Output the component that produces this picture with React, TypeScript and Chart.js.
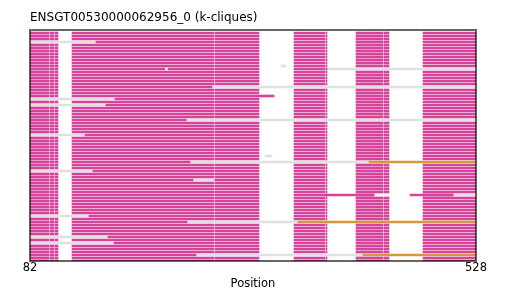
import React, { useEffect, useRef } from 'react';
import { Chart, registerables } from 'chart.js';

Chart.register(...registerables);

const TITLE = 'ENSGT00530000062956_0 (k-cliques)';
const X_LABEL = 'Position';
const X_MIN = 82;
const X_MAX = 528;
const X_TICKS = [82, 528];
const ROW_COUNT = 77;
const Y_MIN = -1;
const Y_MAX = 76;

// Aligned blocks shared by every row (positions)
const BLOCK_STARTS = [82, 102, 107, 124, 267, 346, 378, 408, 436, 475];
const BLOCK_ENDS = [101, 106, 110, 266, 311, 377, 379, 435, 441, 528];

// Missing (grey) stretches per row
const GRAY_ROWS = [3, 11, 12, 18, 22, 24, 29, 34, 41, 43, 46, 49, 54, 61, 63, 68, 70, 74];
const GRAY_STARTS = [82, 333, 379, 264, 82, 82, 238, 82, 317, 242, 82, 245, 505, 82, 239, 82, 82, 248];
const GRAY_ENDS = [148, 338, 528, 528, 167, 158, 528, 137, 324, 421, 145, 267, 528, 141, 350, 160, 166, 415];

// Second clique (orange) stretches
const ORANGE_ROWS = [43, 63, 74];
const ORANGE_STARTS = [421, 350, 415];
const ORANGE_ENDS = [528, 528, 528];

// Holes inside a row
const HOLE_ROWS = [12, 54];
const HOLE_STARTS = [217, 426];
const HOLE_ENDS = [220, 462];

// Extra magenta stretches outside the shared blocks
const EXTRA_ROWS = [21, 54, 54];
const EXTRA_STARTS = [311, 377, 462];
const EXTRA_ENDS = [326, 426, 505];

const MAGENTA = '#d5449a';
const GREY = '#e0e0e0';
const ORANGE = '#d6963c';
const FONT = 'DejaVu Sans';

type Seg = [number, number];

function subtract(segs: Seg[], cuts: Seg[]): Seg[] {
  let out = segs.slice();
  for (const [cs, ce] of cuts) {
    const next: Seg[] = [];
    for (const [s, e] of out) {
      if (ce <= s || cs >= e) { next.push([s, e]); continue; }
      if (cs > s) next.push([s, cs]);
      if (ce < e) next.push([ce, e]);
    }
    out = next;
  }
  return out;
}

function rowsOf(rows: number[], starts: number[], ends: number[], r: number): Seg[] {
  const res: Seg[] = [];
  rows.forEach((row, i) => { if (row === r) res.push([starts[i], ends[i]]); });
  return res;
}

export default function App() {
  const ref = useRef<HTMLCanvasElement | null>(null);

  useEffect(() => {
    if (!ref.current) return;
    const blocks: Seg[] = BLOCK_STARTS.map((s, i) => [s, BLOCK_ENDS[i]]);
    const magenta: any[] = [];
    const grey: any[] = [];
    const orange: any[] = [];
    for (let r = 0; r < ROW_COUNT; r++) {
      const g = rowsOf(GRAY_ROWS, GRAY_STARTS, GRAY_ENDS, r);
      const o = rowsOf(ORANGE_ROWS, ORANGE_STARTS, ORANGE_ENDS, r);
      const h = rowsOf(HOLE_ROWS, HOLE_STARTS, HOLE_ENDS, r);
      const ex = rowsOf(EXTRA_ROWS, EXTRA_STARTS, EXTRA_ENDS, r);
      const mag = subtract([...blocks, ...ex], [...g, ...o, ...h]);
      mag.forEach((s) => magenta.push({ y: r, x: s }));
      g.forEach((s) => grey.push({ y: r, x: s }));
      o.forEach((s) => orange.push({ y: r, x: s }));
    }

    const frame = {
      id: 'frame',
      afterDatasetsDraw(chart: any) {
        const { ctx, chartArea } = chart;
        ctx.save();
        ctx.strokeStyle = 'rgba(0,0,0,0.6)';
        ctx.lineWidth = 2;
        ctx.strokeRect(chartArea.left, chartArea.top, chartArea.right - chartArea.left, chartArea.bottom - chartArea.top);
        ctx.restore();
      },
    };

    const common = { grouped: false, barThickness: 2, borderWidth: 0, borderSkipped: false };
    const chart = new Chart(ref.current, {
      type: 'bar',
      data: {
        datasets: [
          { label: 'orange', data: orange, backgroundColor: ORANGE, ...common } as any,
          { label: 'magenta', data: magenta, backgroundColor: MAGENTA, ...common } as any,
          { label: 'grey', data: grey, backgroundColor: GREY, ...common } as any,
        ],
      },
      options: {
        indexAxis: 'y',
        animation: false,
        responsive: false,
        maintainAspectRatio: false,
        layout: { padding: { left: 30, right: 30, top: 0, bottom: 0 } },
        plugins: {
          legend: { display: false },
          tooltip: { enabled: false },
          title: {
            display: true,
            text: TITLE,
            align: 'start',
            color: '#000',
            font: { family: FONT, size: 12, weight: 'normal' },
            padding: { top: 10.8, bottom: 4.8 },
          },
        },
        scales: {
          x: {
            type: 'linear',
            min: X_MIN,
            max: X_MAX,
            grid: { display: false, drawTicks: false },
            border: { display: false },
            afterBuildTicks: (scale: any) => { scale.ticks = X_TICKS.map((v) => ({ value: v })); },
            afterFit: (scale: any) => { scale.height = 30; },
            ticks: { color: '#000', font: { family: FONT, size: 11.5 }, padding: 0, maxRotation: 0, autoSkip: false },
            title: { display: true, text: X_LABEL, color: '#000', font: { family: FONT, size: 11.5 }, padding: { top: 0, bottom: 0 } },
          },
          y: { type: 'linear', display: false, reverse: true, min: Y_MIN, max: Y_MAX, offset: false },
        },
      } as any,
      plugins: [frame],
    });
    return () => chart.destroy();
  }, []);

  return (
    <div style={{ position: 'absolute', left: 0, top: 0, width: 506, height: 291, background: '#fff' }}>
      <canvas ref={ref} width={506} height={291} style={{ display: 'block' }} />
    </div>
  );
}
